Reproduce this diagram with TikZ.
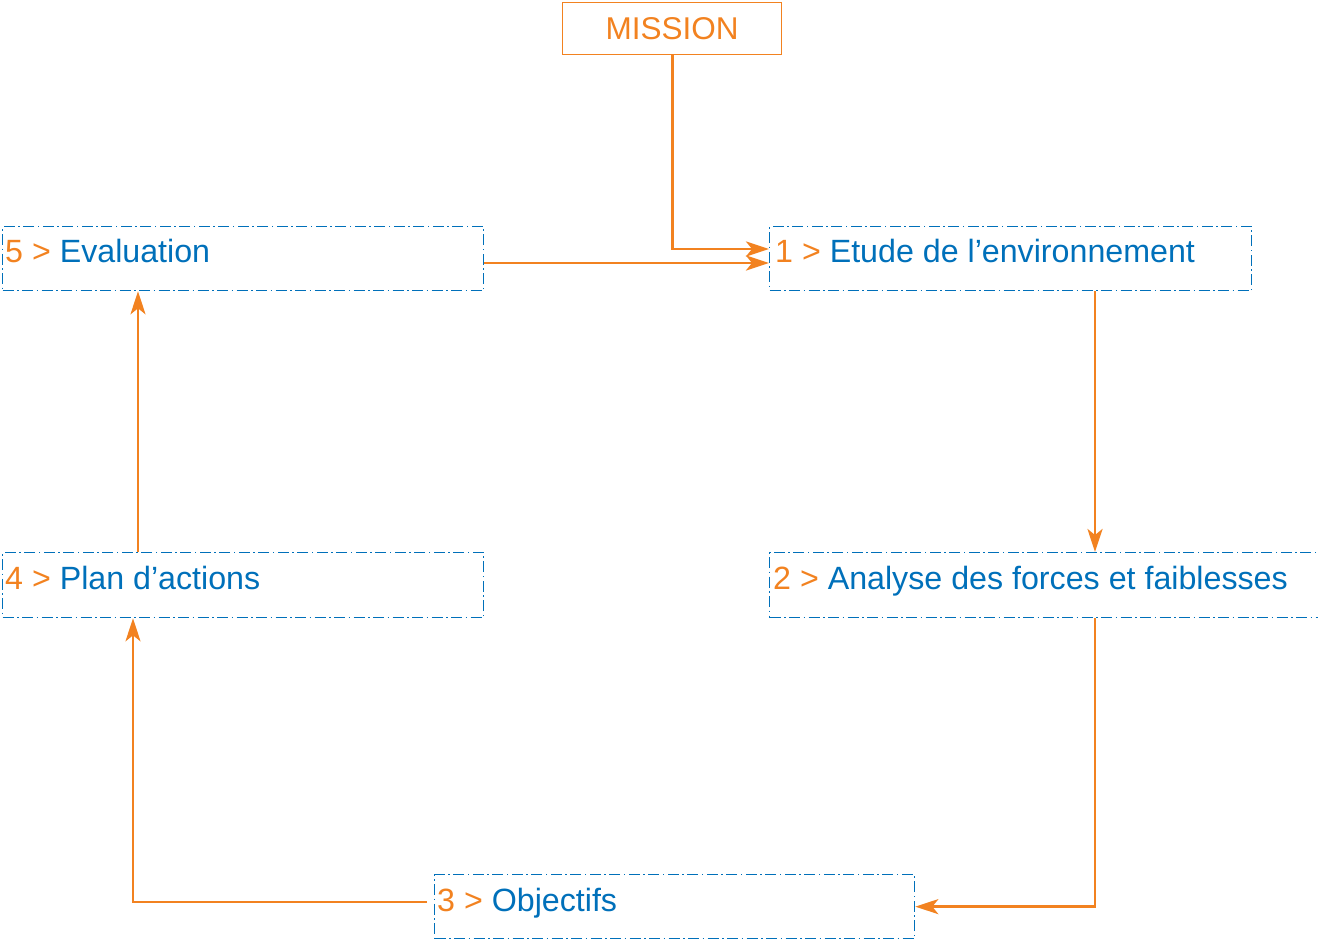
\documentclass[tikz,border=0pt]{standalone}
\usepackage{fontspec}
\setmainfont{Liberation Sans}
\usetikzlibrary{arrows.meta}
\definecolor{orng}{RGB}{242,130,32}
\definecolor{blu}{RGB}{0,112,186}
\tikzset{
  stepbox/.style={draw=blu, line width=1.3pt, dash pattern=on 11pt off 3.5pt on 1.5pt off 3.5pt, inner sep=0pt, anchor=north west},
  missbox/.style={draw=orng, line width=1.3pt, inner sep=0pt, text=orng, font=\fontsize{31.5}{36}\selectfont},
  lbl/.style={anchor=base west, inner sep=0pt, text=blu, font=\fontsize{32.2}{36}\selectfont},
  conn/.style={draw=orng, line width=2.8pt, -{Stealth[length=23pt,width=15pt,inset=6pt]}}
}
\newcommand{\nm}[1]{\textcolor{orng}{#1 >} }
\begin{document}
\begin{tikzpicture}[x=1pt,y=-1pt]
\useasboundingbox (0,0) rectangle (1318,939);
\clip (0,0) rectangle (1318,939);
\node[missbox, minimum width=219pt, minimum height=52pt, anchor=north west] (mission) at (562,2) {MISSION};
\node[stepbox, minimum width=482pt, minimum height=64pt] (b1) at (769,226) {};
\node[stepbox, minimum width=481pt, minimum height=64pt] (b5) at (2,226) {};
\node[stepbox, minimum width=481pt, minimum height=65pt] (b4) at (2,552) {};
\node[stepbox, minimum width=560pt, minimum height=65pt] (b2) at (769,552) {};
\node[stepbox, minimum width=480pt, minimum height=64pt] (b3) at (434,874) {};
\node[lbl] (t1) at (775,262) {\nm{1}Etude de l’environnement};
\node[lbl] (t5) at (5,262) {\nm{5}Evaluation};
\node[lbl] (t4) at (5,589) {\nm{4}Plan d’actions};
\node[lbl] (t2) at (773,589) {\nm{2}Analyse des forces et faiblesses};
\node[lbl] (t3) at (437,911) {\nm{3}Objectifs};
\coordinate (s3) at ([xshift=-7pt,yshift=-28pt]b3.north west);
\draw[conn] (mission.south) |- ([yshift=-23pt]b1.north west);
\draw[conn] ([yshift=-37pt]b5.north east) -- ([yshift=-37pt]b1.north west);
\draw[conn] ([xshift=326pt]b1.south west) -- ([xshift=326pt]b2.north west);
\draw[conn] ([xshift=326pt]b2.south west) |- (b3.east);
\draw[conn] (s3) -| ([xshift=131pt]b4.south west);
\draw[conn] ([xshift=136pt]b4.north west) -- ([xshift=136pt]b5.south west);
\end{tikzpicture}
\end{document}
